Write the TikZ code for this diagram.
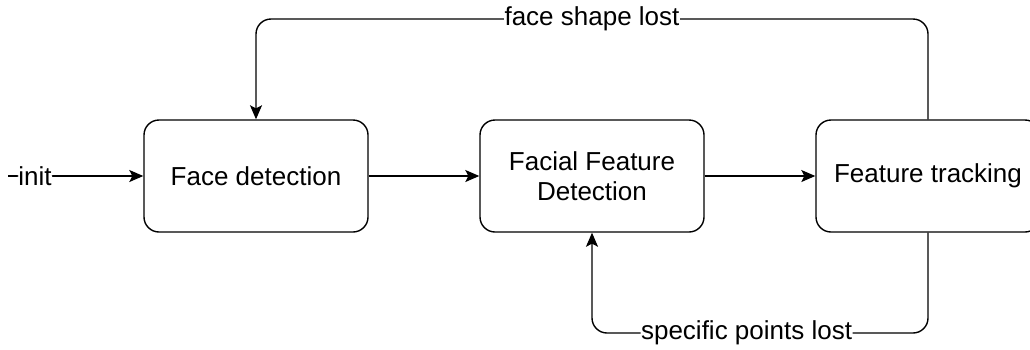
\documentclass[tikz,border=0pt]{standalone}
\usepackage{fontspec}
\setmainfont{Liberation Sans}
\usetikzlibrary{arrows.meta}
\begin{document}
\begin{tikzpicture}[x=1pt,y=-1pt,
  box/.style={draw, line width=1.4pt, rounded corners=15pt, minimum width=224pt, minimum height=112pt, align=center, inner sep=0pt, font=\fontsize{26}{30}\selectfont},
  arr/.style={line width=1.4pt, -{Stealth[length=14pt,width=12pt,inset=3pt]}, rounded corners=15pt},
  lbl/.style={fill=white, inner sep=0.5pt, font=\fontsize{26}{30}\selectfont}]
\useasboundingbox (0,0) rectangle (1030,349);
\clip (0,0) rectangle (1030,349);
\node[box] (fd) at (256,176) {Face detection};
\node[box] (ffd) at (592,176) {Facial Feature\\Detection};
\node[box] (ft) at (928,176) {Feature tracking};
\coordinate (in) at (8,176);
\coordinate (topy) at (0,19);
\coordinate (boty) at (0,333);
\draw[arr] (in) -- node[lbl, pos=0.2] {init} (fd.west);
\draw[arr] (fd.east) -- (ffd.west);
\draw[arr] (ffd.east) -- (ft.west);
\draw[arr] (ft.north) -- (ft.north |- topy) -- node[lbl, midway] {face shape lost} (fd.north |- topy) -- (fd.north);
\draw[arr] (ft.south) -- (ft.south |- boty) -- node[lbl, pos=0.54] {specific points lost} (ffd.south |- boty) -- (ffd.south);
\end{tikzpicture}
\end{document}
